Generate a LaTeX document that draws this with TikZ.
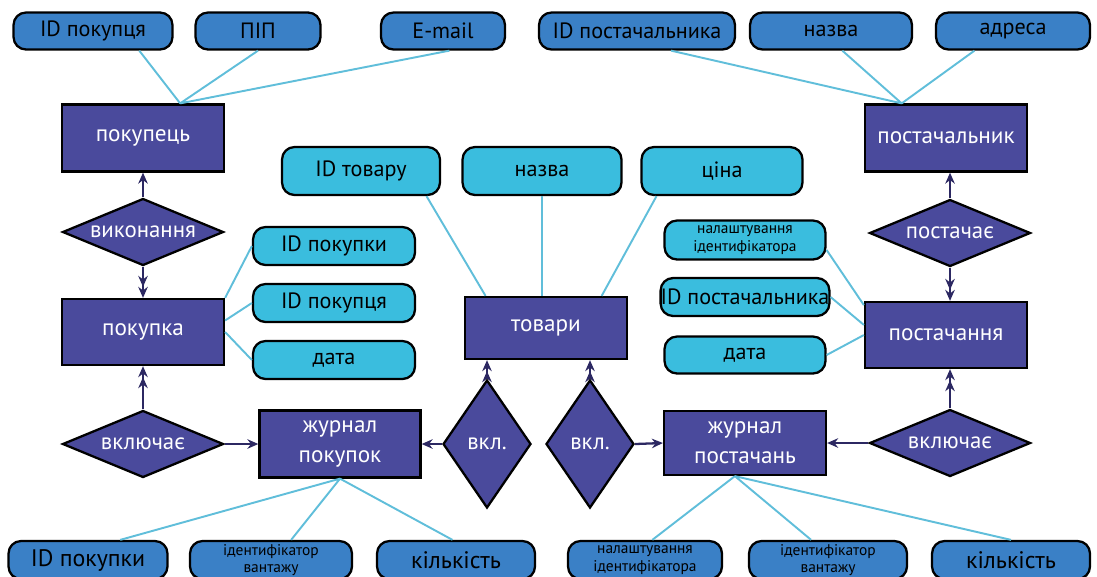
\documentclass[tikz,border=0pt]{standalone}
\usepackage{fontspec}
\setmainfont{PT Sans}
\usetikzlibrary{arrows.meta,shapes.geometric}

\definecolor{entfill}{RGB}{74,74,156}
\definecolor{atrblue}{RGB}{58,128,198}
\definecolor{atrcyan}{RGB}{58,189,222}
\definecolor{linecyan}{RGB}{96,190,218}
\definecolor{arrownavy}{RGB}{44,40,98}

\begin{document}
\begin{tikzpicture}[x=0.02cm,y=-0.02cm,>={Stealth[length=2.2mm,width=1.9mm]},
  ent/.style={draw=black,line width=1.3pt,fill=entfill,text=white,align=center,inner sep=0pt,
    minimum width=3.24cm,minimum height=1.32cm,font=\fontsize{13.2}{17}\selectfont},
  rel/.style={diamond,draw=black,line width=1.3pt,fill=entfill,text=white,inner sep=0pt,
    aspect=2.4,minimum width=3.22cm,minimum height=1.34cm,font=\fontsize{13}{15}\selectfont},
  relv/.style={rel,aspect=0.69,minimum width=1.76cm,minimum height=2.56cm},
  atr/.style={rounded corners=2.5mm,draw=black,line width=1.3pt,fill=atrblue,align=center,
    inner sep=0pt,minimum height=0.74cm,font=\fontsize{12.6}{15}\selectfont},
  atrc/.style={atr,fill=atrcyan},
  big/.style={font=\fontsize{13.6}{15}\selectfont},
  small/.style={font=\fontsize{8.8}{10}\selectfont},
  lin/.style={linecyan,line width=1.1pt},
  arr/.style={arrownavy,line width=1.3pt}]
  \useasboundingbox (0,0) rectangle (1097,576);
  \clip (0,0) rectangle (1097,576);

  % atributos arriba
  \node[atr,minimum width=3.18cm] (ak1) at (93,31) {ID покупця};
  \node[atr,minimum width=2.5cm] (ak2) at (258,31) {ПІП};
  \node[atr,minimum width=2.48cm] (ak3) at (443,31) {E-mail};
  \node[atr,minimum width=3.92cm] (as1) at (637,31) {ID постачальника};
  \node[atr,minimum width=3.24cm] (as2) at (831,31) {назва};
  \node[atr,minimum width=3.08cm] (as3) at (1013,31) {адреса};

  % entidades
  \node[ent,minimum height=1.34cm] (e1) at (143,138) {покупець};
  \node[ent] (e2) at (143,332) {покупка};
  \node[ent,minimum width=3.22cm,minimum height=1.34cm] (e3) at (340,444) {журнал\\покупок};
  \node[ent,minimum height=1.24cm] (e4) at (546,328) {товари};
  \node[ent,minimum height=1.28cm] (e5) at (745,443) {журнал\\постачань};
  \node[ent] (e6) at (946,335) {постачання};
  \node[ent,minimum height=1.34cm] (e7) at (946,138) {постачальник};

  % relaciones
  \node[rel] (r1) at (143,232) {виконання};
  \node[rel] (r2) at (143,444) {включає};
  \node[relv] (r3) at (487,444) {вкл.};
  \node[relv] (r4) at (590,444) {вкл.};
  \node[rel] (r5) at (950,443) {включає};
  \node[rel] (r6) at (950,233) {постачає};

  % atributos del centro
  \node[atrc,minimum width=3.16cm,minimum height=0.96cm] (b1) at (361,171) {ID товару};
  \node[atrc,minimum width=3.18cm,minimum height=0.96cm] (b2) at (542,171) {назва};
  \node[atrc,minimum width=3.22cm,minimum height=0.96cm] (b3) at (722,171) {ціна};
  \node[atrc,minimum width=3.24cm,minimum height=0.76cm] (c1) at (334,246) {ID покупки};
  \node[atrc,minimum width=3.24cm,minimum height=0.76cm] (c2) at (334,303) {ID покупця};
  \node[atrc,minimum width=3.24cm,minimum height=0.76cm] (c3) at (334,360) {дата};
  \node[atrc,small,minimum width=3.22cm,minimum height=0.78cm] (d1) at (745,240) {налаштування\\ідентифікатора};
  \node[atrc,minimum width=3.22cm,minimum height=0.76cm] (d2) at (745,297) {ID постачальника};
  \node[atrc,minimum width=3.22cm,minimum height=0.74cm] (d3) at (745,355) {дата};

  % atributos abajo
  \node[atr,big,minimum width=3.18cm,minimum height=0.76cm] (f1) at (88,560) {ID покупки};
  \node[atr,small,minimum width=3.24cm,minimum height=0.76cm] (f2) at (271,560) {ідентифікатор\\вантажу};
  \node[atr,big,minimum width=3.16cm,minimum height=0.76cm] (f3) at (456,560) {кількість};
  \node[atr,small,minimum width=3.08cm,minimum height=0.76cm] (g1) at (645,560) {налаштування\\ідентифікатора};
  \node[atr,small,minimum width=3.16cm,minimum height=0.76cm] (g2) at (828,560) {ідентифікатор\\вантажу};
  \node[atr,big,minimum width=3.16cm,minimum height=0.76cm] (g3) at (1011,560) {кількість};

  % lineas de atributos
  \draw[lin] (ak1.-23) -- (e1.43) (ak2.south) -- (e1.43) (ak3.-72) -- (e1.43);
  \draw[lin] (as1.-30) -- (e7.142) (as2.-60) -- (e7.142) (as3.-153) -- (e7.142);
  \draw[lin] (b1.-21) -- (e4.152) (b2.south) -- (b2.south |- e4.north) (b3.-159) -- (e4.30);
  \draw[lin] (e2.north east) -- (c1.west) (e2.8) -- (c2.west) (e2.east) -- (c3.west);
  \draw[lin] (d1.-7) -- (e6.160) (d2.east) -- (e6.173) (d3.east) -- (e6.west);
  \draw[lin] (e3.south) -- (f1.32) (e3.south) -- (f2.45) (e3.south) -- (f3.100);
  \draw[lin] (e5.-107) -- (g1.70) (e5.-107) -- (g2.130) (e5.-107) -- (g3.north);

  % flechas
  \draw[arr,->] (r1.north) -- (e1.south);
  \draw[arr,->>] (r1.south) -- (e2.north);
  \draw[arr,->>] (r2.north) -- (e2.south);
  \draw[arr,->] (r2.east) -- (e3.west);
  \draw[arr,->] (r3.west) -- (e3.east);
  \draw[arr,->>] (r3.north) -- (r3.north |- e4.south);
  \draw[arr,->>] (r4.north) -- (r4.north |- e4.south);
  \draw[arr,->] (r4.east) -- (e5.west);
  \draw[arr,->] (r5.west) -- (e5.east);
  \draw[arr,->>] (r5.north) -- (r5.north |- e6.south);
  \draw[arr,->>] (r6.south) -- (r6.south |- e6.north);
  \draw[arr,->] (r6.north) -- (r6.north |- e7.south);
\end{tikzpicture}
\end{document}
